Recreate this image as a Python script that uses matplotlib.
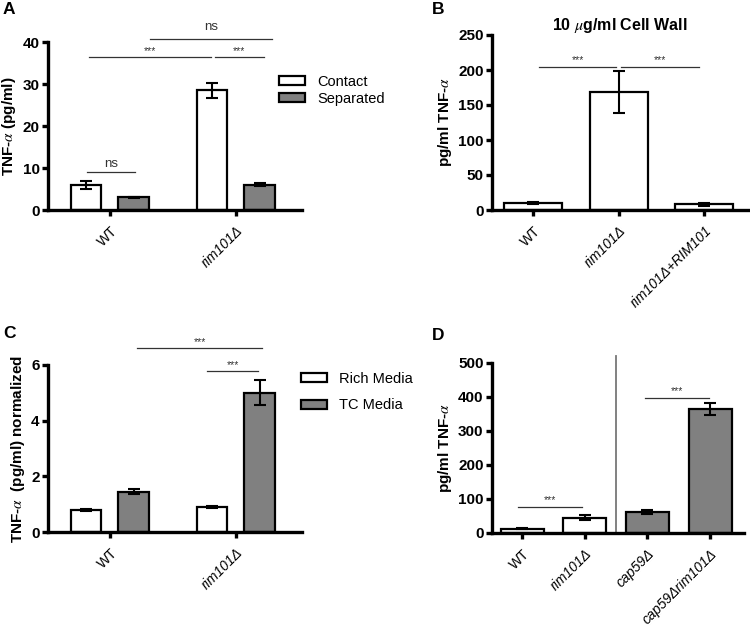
import matplotlib
matplotlib.use("Agg")
import matplotlib.pyplot as plt
from matplotlib.patches import Patch
import numpy as np

plt.rcParams['font.family'] = ['Liberation Sans', 'DejaVu Sans']
plt.rcParams['mathtext.fontset'] = 'stix'

# ---- Data ----
a_groups = ["WT", "rim101\u0394"]
a_contact = [6.0, 28.5]
a_contact_err = [0.9, 1.8]
a_separated = [3.0, 6.0]
a_separated_err = [0.1, 0.4]

b_groups = ["WT", "rim101\u0394", "rim101\u0394+RIM101"]
b_values = [10, 168, 8]
b_err = [2, 30, 2]

c_groups = ["WT", "rim101\u0394"]
c_rich = [0.8, 0.9]
c_rich_err = [0.03, 0.05]
c_tc = [1.45, 5.0]
c_tc_err = [0.1, 0.45]

d_groups = ["WT", "rim101\u0394", "cap59\u0394", "cap59\u0394rim101\u0394"]
d_values = [13, 45, 62, 365]
d_err = [2, 7, 5, 18]

GRAY = "#808080"
W, H = 750, 628
fig = plt.figure(figsize=(7.5, 6.28), dpi=100)


def px_axes(left, right, top, bottom):
    return fig.add_axes([left / W, 1 - bottom / H, (right - left) / W, (bottom - top) / H])


def style(ax):
    for s in ['top', 'right']:
        ax.spines[s].set_visible(False)
    for s in ['left', 'bottom']:
        ax.spines[s].set_linewidth(2.4)
    ax.tick_params(axis='y', direction='out', length=4, width=2.4, labelsize=11, pad=2)
    ax.tick_params(axis='x', direction='out', length=4, width=2.4, labelsize=10, pad=6)
    for t in ax.get_yticklabels():
        t.set_fontweight('bold')


def xlabels(ax, labels):
    ax.set_xticklabels(labels, rotation=45, ha='right', rotation_mode='anchor')
    for t, lab in zip(ax.get_xticklabels(), labels):
        if lab != "WT":
            t.set_fontstyle('italic')


def bars(ax, x, vals, errs, color, width):
    ax.bar(x, vals, width=width, color=color, edgecolor='black', linewidth=1.6, zorder=2)
    ax.errorbar(x, vals, yerr=errs, fmt='none', ecolor='black', elinewidth=1.5,
                capsize=4, capthick=1.5, zorder=3)


def sig(ax, x0, x1, y, text, fs=7.5, dy=0.0):
    ax.plot([x0, x1], [y, y], color='#333333', lw=0.9, clip_on=False, zorder=4)
    ax.text((x0 + x1) / 2, y + dy, text, ha='center', va='bottom', fontsize=fs,
            color='#333333', clip_on=False)


# ---- Panel A ----
axA = px_axes(48, 302, 42, 210)
xa = np.arange(len(a_groups))
off, bw = 0.19, 0.245
bars(axA, xa - off, a_contact, a_contact_err, 'white', bw)
bars(axA, xa + off, a_separated, a_separated_err, GRAY, bw)
axA.set_xlim(-0.492, 1.524)
axA.set_ylim(0, 40)
axA.set_yticks([0, 10, 20, 30, 40])
axA.set_xticks(xa)
style(axA)
xlabels(axA, a_groups)
axA.set_ylabel("TNF-$\\alpha$ (pg/ml)", fontsize=11, fontweight='bold', labelpad=3)
sig(axA, -0.18, 0.198, 9.0, "ns", fs=9.5, dy=0.6)
sig(axA, -0.167, 0.80, 36.4, "***", dy=0.3)
sig(axA, 0.833, 1.222, 36.4, "***", dy=0.3)
sig(axA, 0.317, 1.286, 40.7, "ns", fs=9.5, dy=1.5)
axA.legend(handles=[Patch(facecolor='white', edgecolor='black', linewidth=1.6, label='Contact'),
                    Patch(facecolor=GRAY, edgecolor='black', linewidth=1.6, label='Separated')],
           loc='upper left', bbox_to_anchor=(279 / W, 1 - 75 / H), bbox_transform=fig.transFigure,
           frameon=False, fontsize=10.5, handlelength=1.75, handleheight=0.6,
           handletextpad=0.85, labelspacing=0.2, borderpad=0, borderaxespad=0)

# ---- Panel B ----
axB = px_axes(492, 748, 35, 210)
xb = np.arange(len(b_groups))
bars(axB, xb, b_values, b_err, 'white', 0.68)
axB.set_xlim(-0.48, 2.51)
axB.set_ylim(0, 250)
axB.set_yticks([0, 50, 100, 150, 200, 250])
axB.set_xticks(xb)
style(axB)
xlabels(axB, b_groups)
axB.set_ylabel("pg/ml TNF-$\\alpha$", fontsize=11, fontweight='bold', labelpad=3)
axB.set_title("10 $\\mu$g/ml Cell Wall", fontsize=11.5, fontweight='bold', pad=2)
sig(axB, 0.07, 0.97, 205, "***", dy=2)
sig(axB, 1.03, 1.94, 205, "***", dy=2)

# ---- Panel C ----
axC = px_axes(48, 302, 365, 532)
xc = np.arange(len(c_groups))
bars(axC, xc - off, c_rich, c_rich_err, 'white', bw)
bars(axC, xc + off, c_tc, c_tc_err, GRAY, bw)
axC.set_xlim(-0.492, 1.524)
axC.set_ylim(0, 6)
axC.set_yticks([0, 2, 4, 6])
axC.set_xticks(xc)
style(axC)
xlabels(axC, c_groups)
axC.set_ylabel("TNF-$\\alpha$  (pg/ml) normalized", fontsize=11, fontweight='bold', labelpad=3)
sig(axC, 0.215, 1.206, 6.6, "***", dy=0.05)
sig(axC, 0.77, 1.175, 5.78, "***", dy=0.05)
axC.legend(handles=[Patch(facecolor='white', edgecolor='black', linewidth=1.6, label='Rich Media'),
                    Patch(facecolor=GRAY, edgecolor='black', linewidth=1.6, label='TC Media')],
           loc='upper left', bbox_to_anchor=(301 / W, 1 - 372 / H), bbox_transform=fig.transFigure,
           frameon=False, fontsize=10.5, handlelength=1.75, handleheight=0.6,
           handletextpad=0.85, labelspacing=0.85, borderpad=0, borderaxespad=0)

# ---- Panel D ----
axD = px_axes(492, 744, 363, 533)
xd = np.arange(len(d_groups))
d_colors = ['white', 'white', GRAY, GRAY]
for xi, v, e, c in zip(xd, d_values, d_err, d_colors):
    bars(axD, [xi], [v], [e], c, 0.686)
axD.set_xlim(-0.48, 3.54)
axD.set_ylim(0, 500)
axD.set_yticks([0, 100, 200, 300, 400, 500])
axD.set_xticks(xd)
style(axD)
xlabels(axD, d_groups)
axD.set_ylabel("pg/ml TNF-$\\alpha$", fontsize=11, fontweight='bold', labelpad=3)
axD.plot([1.5, 1.5], [0, 520], color='#777777', lw=1.3, clip_on=False, zorder=1)
sig(axD, -0.06, 0.96, 76, "***", dy=5)
sig(axD, 1.96, 2.98, 397, "***", dy=5)

# Panel letters
for lab, x, y in [("A", 3, 2), ("B", 432, 2), ("C", 3, 326), ("D", 432, 328)]:
    fig.text(x / W, 1 - y / H, lab, fontsize=12.5, fontweight='bold', ha='left', va='top')

fig.savefig("out.png", dpi=100)
